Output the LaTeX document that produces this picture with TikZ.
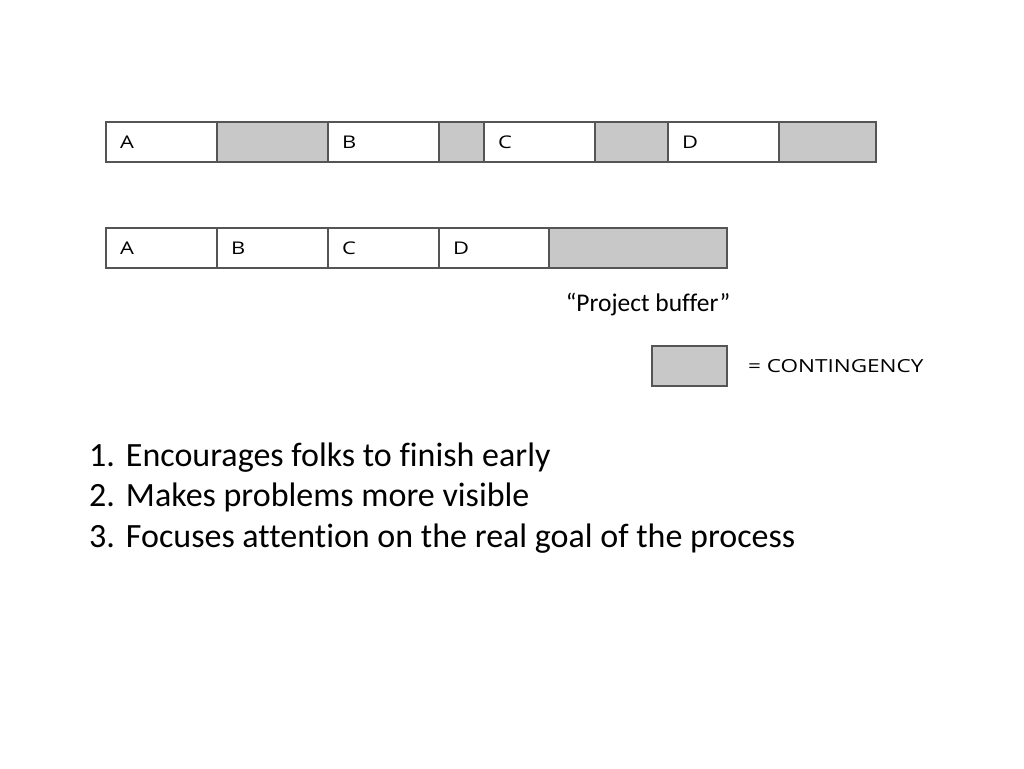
\documentclass[tikz,border=0pt]{standalone}
\usepackage{fontspec}
\setmainfont[Ligatures=NoCommon]{Carlito}
\newfontfamily\boxfont[FakeStretch=1.25]{Open Sans}
\usetikzlibrary{positioning}
\definecolor{contgray}{RGB}{200,200,200}
\definecolor{boxline}{RGB}{85,85,85}

\begin{document}
\begin{tikzpicture}[
		x=1pt, y=-1pt
		,seg/.style={draw=boxline, line width=1.2pt, minimum height=40pt, text width=#1,
			inner xsep=14pt, inner ysep=0pt, outer sep=0pt, align=left,
			font=\boxfont\fontsize{17.5}{18}\selectfont}
		,buf/.style={seg=#1, fill=contgray}
		,note/.style={font=\fontsize{25.5}{30}\selectfont, inner sep=0pt}
	]
		\useasboundingbox (0,0) rectangle (1024,768);

		% tasks with their own safety
		\node[seg=83pt, anchor=west] (a1) at (106,142) {A};
		\node[buf=83pt, right=0pt of a1] (ca) {};
		\node[seg=83pt, right=0pt of ca] (b1) {B};
		\node[buf=17pt, right=0pt of b1] (cb) {};
		\node[seg=83pt, right=0pt of cb] (c1) {C};
		\node[buf=45pt, right=0pt of c1] (cc) {};
		\node[seg=83pt, right=0pt of cc] (d1) {D};
		\node[buf=69pt, right=0pt of d1] (cd) {};

		% safety pooled at the end
		\node[seg=83pt, anchor=west] (a2) at (106,248) {A};
		\node[seg=83pt, right=0pt of a2] (b2) {B};
		\node[seg=83pt, right=0pt of b2] (c2) {C};
		\node[seg=82pt, right=0pt of c2] (d2) {D};
		\node[buf=150pt, right=0pt of d2] (pbuf) {};
		\node[note, anchor=base] (pbtxt) at (648,311) {“Project buffer”};

		% legend
		\node[buf=47pt, anchor=west] (key) at (652,366) {};
		\node[anchor=west, inner sep=0pt, font=\boxfont\fontsize{18}{20}\selectfont]
			(keytxt) at (748,366) {= CONTINGENCY};

		\node[anchor=base west, inner sep=0pt, font=\fontsize{34}{40.5}\selectfont] (list) at (89,466)
			{\begin{tabular}[t]{@{}r@{\hspace{11pt}}l@{}}
				1. & Encourages folks to finish early\\
				2. & Makes problems more visible\\
				3. & Focuses attention on the real goal of the process
			\end{tabular}};
	\end{tikzpicture}
\end{document}
